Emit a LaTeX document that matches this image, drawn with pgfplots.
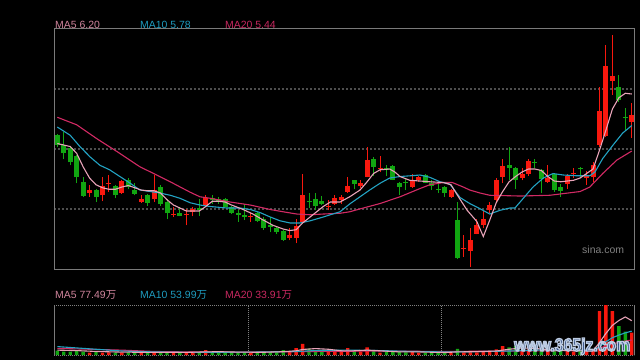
\documentclass[border=0pt]{standalone}
\usepackage{pgfplots}
\pgfplotsset{compat=1.18}
\usepackage{pgfplotstable}
\usepackage{graphicx}
\usepackage{fontspec}
\setmainfont{Liberation Sans}
\newfontfamily\cjk{Noto Sans CJK SC}
\definecolor{cRed}{HTML}{F8180E}
\definecolor{cGreen}{HTML}{11A611}
\definecolor{maA}{HTML}{E8A3B8}
\definecolor{maB}{HTML}{23A3C3}
\definecolor{maC}{HTML}{D22A64}
\definecolor{labA}{HTML}{D0849C}
\definecolor{labB}{HTML}{1E9BBE}
\definecolor{labC}{HTML}{C82860}
\definecolor{frameGray}{HTML}{7A7A7A}
\definecolor{gridGray}{HTML}{4E4E4E}
\definecolor{volGray}{HTML}{808080}
\definecolor{wmBlue}{HTML}{2D4A7F}

% red (up) candles: index open high low close volume(wan)
\pgfplotstableread{
i o h l c v
5 4.88 4.99 4.83 4.92 5.2
7 4.85 5.09 4.77 4.97 5.2
8 5.01 5.12 4.90 5.02 6.1
10 4.88 5.05 4.87 5.04 5.2
13 4.76 4.85 4.75 4.80 5.2
15 4.80 5.12 4.76 4.92 5.2
18 4.59 4.69 4.56 4.60 5.2
20 4.59 4.67 4.45 4.60 5.2
21 4.63 4.69 4.57 4.67 5.2
23 4.71 4.85 4.70 4.81 11.3
30 4.57 4.62 4.50 4.58 5.2
36 4.28 4.41 4.25 4.32 7.5
37 4.28 4.54 4.21 4.44 15.8
38 4.50 5.14 4.49 4.85 24.9
42 4.70 4.79 4.65 4.71 7.5
43 4.74 4.85 4.72 4.81 7.5
44 4.79 4.86 4.74 4.83 7.5
45 4.90 5.09 4.88 4.97 15.8
47 4.98 5.05 4.95 5.02 7.5
48 5.10 5.50 5.09 5.32 17.4
50 5.20 5.37 5.16 5.21 5.2
55 4.96 5.13 4.95 5.04 7.5
56 5.05 5.11 5.03 5.10 5.2
61 4.83 4.93 4.82 4.92 6.1
63 4.14 4.32 4.03 4.15 6.1
64 4.11 4.42 3.90 4.26 7.5
65 4.34 4.53 4.33 4.45 6.1
66 4.45 4.66 4.41 4.54 7.5
67 4.65 4.76 4.61 4.72 7.5
68 4.79 5.08 4.76 5.05 12.9
69 5.10 5.34 5.01 5.24 20.3
72 5.08 5.21 5.05 5.14 11.3
73 5.13 5.34 5.11 5.31 12.9
76 5.03 5.25 5.02 5.08 9.7
79 5.00 5.13 4.93 5.11 9.7
80 5.14 5.21 5.08 5.15 7.5
82 5.08 5.18 4.99 5.12 9.7
83 5.10 5.30 5.03 5.25 12.9
84 5.52 6.29 5.50 5.97 99.4
85 5.64 6.85 5.63 6.57 113
86 6.38 6.99 6.19 6.44 99.4
89 5.83 6.08 5.62 5.92 50.4
}\redtab

% green (down) candles
\pgfplotstableread{
i o h l c v
0 5.65 5.67 5.49 5.52 9.7
1 5.52 5.70 5.33 5.41 7.5
2 5.48 5.51 5.25 5.29 7.5
3 5.37 5.39 5.01 5.09 9.0
4 5.03 5.10 4.83 4.84 7.5
6 4.92 4.93 4.76 4.83 7.5
9 4.97 4.99 4.81 4.85 5.2
11 5.05 5.08 4.93 4.96 6.1
12 4.92 5.02 4.85 4.87 5.2
14 4.85 4.87 4.71 4.75 6.1
16 4.96 4.99 4.71 4.74 7.5
17 4.76 4.80 4.53 4.61 6.1
19 4.62 4.69 4.57 4.58 5.2
22 4.68 4.80 4.57 4.66 5.2
24 4.82 4.85 4.74 4.79 6.8
25 4.80 4.83 4.74 4.78 4.5
26 4.80 4.81 4.69 4.70 6.1
27 4.69 4.71 4.60 4.62 5.2
28 4.61 4.65 4.50 4.59 6.1
29 4.59 4.74 4.52 4.56 5.2
31 4.62 4.63 4.50 4.51 6.1
32 4.54 4.56 4.39 4.42 7.5
33 4.45 4.56 4.36 4.43 7.5
34 4.41 4.43 4.34 4.36 7.5
35 4.37 4.39 4.24 4.26 11.3
39 4.77 4.88 4.68 4.76 14.3
40 4.80 4.88 4.65 4.71 9.7
41 4.77 4.84 4.72 4.73 9.0
46 5.05 5.06 4.93 5.00 7.5
49 5.34 5.36 5.11 5.23 9.7
51 5.22 5.25 5.11 5.19 7.5
52 5.24 5.25 5.05 5.06 7.5
53 5.02 5.03 4.85 4.96 7.5
54 5.03 5.08 4.92 5.02 6.1
57 5.12 5.14 5.01 5.02 5.2
58 5.02 5.06 4.92 4.97 5.2
59 4.94 5.02 4.88 4.92 5.2
60 4.96 4.97 4.83 4.88 6.1
62 4.52 4.76 4.00 4.01 13.6
70 5.26 5.50 5.05 5.22 17.4
71 5.22 5.23 4.93 5.05 20.3
74 5.30 5.34 5.22 5.29 11.3
75 5.19 5.20 4.88 5.07 11.3
77 5.13 5.14 4.90 4.92 11.3
78 4.96 5.00 4.83 4.91 9.7
81 5.21 5.23 5.08 5.20 9.7
87 6.29 6.45 6.10 6.12 65.5
88 5.90 6.02 5.71 5.89 52.7
}\greentab

\begin{document}
\begin{tikzpicture}[x=1bp,y=1bp]
\fill[black] (0,0) rectangle (640,360);

% ---------------- price panel ----------------
\begin{axis}[at={(54bp,91bp)}, anchor=south west, scale only axis,
  width=580bp, height=240bp,
  xmin=-0.51, xmax=89.35, ymin=3.867, ymax=7.067,
  axis line style={draw=frameGray, line width=1bp},
  xtick=\empty, ytick={4.667,5.467,6.267}, yticklabels={},
  tick style={draw=none}, major tick length=0pt,
  ymajorgrids, grid style={draw=gridGray, line width=1.4bp, dash pattern=on 2bp off 2bp}]
% wicks
\addplot[draw=none, mark=none, forget plot, error bars/.cd, y dir=plus, y explicit, error mark=none,
  error bar style={draw=cRed, line width=1bp}]
  table[x=i, y=l, y error expr=\thisrow{h}-\thisrow{l}] {\redtab};
\addplot[draw=none, mark=none, forget plot, error bars/.cd, y dir=plus, y explicit, error mark=none,
  error bar style={draw=cGreen, line width=1bp}]
  table[x=i, y=l, y error expr=\thisrow{h}-\thisrow{l}] {\greentab};
% bodies
\addplot[draw=none, mark=none, forget plot, error bars/.cd, y dir=plus, y explicit, error mark=none,
  error bar style={draw=cRed, line width=5bp}]
  table[x=i, y=o, y error expr=\thisrow{c}-\thisrow{o}] {\redtab};
\addplot[draw=none, mark=none, forget plot, error bars/.cd, y dir=plus, y explicit, error mark=none,
  error bar style={draw=cGreen, line width=5bp}]
  table[x=i, y=c, y error expr=\thisrow{o}-\thisrow{c}] {\greentab};
% MA20
\addplot[maC, line width=1.1bp, mark=none] coordinates {
(0,5.89)(3,5.79)(6.2,5.60)(9.3,5.43)(12.8,5.23)(15.4,5.12)(17.5,5.03)(20.6,4.89)(22.1,4.83)(23.7,4.81)(26.8,4.76)(29.9,4.72)(33,4.66)(35,4.63)(37.1,4.60)(39.2,4.59)(41.2,4.60)(43.8,4.61)(45.3,4.63)(47.4,4.68)(50,4.74)(53.1,4.83)(56.2,4.94)(57.7,4.99)(59.8,5.02)(61.2,5.02)(62.9,4.96)(63.9,4.92)(65.5,4.88)(67,4.85)(71.7,4.84)(76.3,4.85)(81,4.90)(82.5,4.96)(84.5,5.14)(86.7,5.32)(89,5.44)};
% MA10
\addplot[maB, line width=1.1bp, mark=none] coordinates {
(0,5.76)(2,5.65)(3.5,5.50)(5.1,5.36)(6.6,5.25)(8.1,5.19)(9.7,5.10)(11.3,5.01)(12.8,4.92)(14.4,4.90)(15.9,4.88)(17.5,4.85)(19,4.81)(20.6,4.75)(22.1,4.72)(23.7,4.70)(26.3,4.68)(28.3,4.68)(29.9,4.66)(31.4,4.62)(33,4.56)(34.5,4.51)(36.1,4.48)(37.6,4.48)(39.2,4.51)(41.2,4.56)(42.3,4.59)(43.8,4.63)(45.4,4.74)(46.9,4.83)(48.4,4.92)(50,5.01)(51.5,5.08)(53.1,5.10)(54.7,5.11)(56.2,5.12)(57.7,5.09)(59.3,5.03)(60.8,5.00)(62.4,4.82)(63.9,4.74)(65.5,4.67)(67,4.60)(68.6,4.65)(70.1,4.68)(70.9,4.68)(72.2,4.81)(73.7,4.96)(75.3,5.08)(76.8,5.14)(78.4,5.12)(80.5,5.11)(82.5,5.11)(83.3,5.16)(84.5,5.34)(86.1,5.52)(87.6,5.68)(89,5.78)};
% MA5
\addplot[maA, line width=1.1bp, mark=none] coordinates {
(0,5.54)(1,5.52)(2,5.50)(3,5.41)(4,5.23)(5,5.08)(6,4.99)(7,4.95)(8,4.93)(9,4.93)(10,4.96)(11,4.98)(12,4.95)(13,4.92)(14,4.91)(15,4.91)(16,4.88)(17,4.79)(18,4.72)(19,4.68)(20,4.64)(21,4.64)(22,4.64)(23,4.70)(24,4.77)(25,4.77)(26,4.76)(27,4.72)(28.8,4.66)(30.3,4.60)(31.9,4.52)(33.4,4.45)(35,4.40)(36,4.38)(37,4.39)(38,4.48)(39.6,4.59)(41.2,4.70)(42.3,4.76)(43.8,4.76)(45.3,4.83)(46.9,4.92)(48,5.03)(49,5.14)(50,5.19)(51.5,5.20)(52.3,5.16)(53.1,5.10)(54.6,5.05)(56.2,5.04)(57.7,5.03)(59.8,5.02)(61,4.99)(62,4.85)(63.5,4.65)(65,4.50)(66,4.30)(67,4.52)(68,4.75)(69,4.90)(70,5.03)(71,5.10)(72,5.16)(73,5.20)(74,5.20)(75,5.18)(76,5.10)(77,5.04)(78,5.03)(79,5.04)(80,5.05)(81,5.08)(82,5.14)(83,5.20)(84,5.45)(85,5.72)(86,6.00)(87,6.15)(88,6.21)(89,6.20)};
\end{axis}

% ---------------- volume panel ----------------
\begin{axis}[at={(54bp,5bp)}, anchor=south west, scale only axis,
  width=580bp, height=50bp,
  xmin=-0.51, xmax=89.35, ymin=0, ymax=113,
  separate axis lines,
  x axis line style={draw=volGray, line width=1bp, dash pattern=on 1bp off 1bp},
  y axis line style={draw=frameGray, line width=1bp},
  xtick={29.55,59.45}, xticklabels={}, ytick=\empty,
  tick style={draw=none}, major tick length=0pt,
  xmajorgrids, grid style={draw=volGray, line width=1bp, dash pattern=on 1bp off 1bp}]
\addplot[ybar, bar width=3.4bp, bar shift=0pt, fill=cRed, draw=none, forget plot] table[x=i, y=v] {\redtab};
\addplot[ybar, bar width=3.4bp, bar shift=0pt, fill=cGreen, draw=none, forget plot] table[x=i, y=v] {\greentab};
\addplot[maC, line width=1.1bp, mark=none] coordinates {
(0,15)(5,13)(10,11)(15,8)(20,7)(30,6.5)(40,8)(50,9)(60,8)(70,9)(80,10)(83,10.5)(84,15)(85,20.5)(86,25)(87,28.5)(88,31.5)(89,33.9)};
\addplot[maB, line width=1.1bp, mark=none] coordinates {
(0,19)(5,14)(10,9)(15,7)(20,6)(30,6.5)(37,8)(40,10)(45,11)(50,10)(55,8)(60,7)(65,7.5)(70,9)(75,11.5)(80,11)(83,10.5)(84,19)(85,30)(86,39)(87,45)(88,50)(89,54)};
\addplot[maA, line width=1.1bp, mark=none] coordinates {
(0,11)(3,10)(6,8)(10,6.5)(15,6)(20,6)(23,7)(25,7.5)(28,6.5)(32,6.2)(35,7.5)(37,9.5)(38,12.5)(40,14.5)(42,13)(44,9.5)(46,9.5)(48,11)(50,9.5)(53,7)(56,7)(60,5.5)(62,7)(64,7.5)(66,8)(68,9)(70,13)(72,16)(74,15)(76,11.5)(78,10.5)(80,9.7)(82,9.2)(83,9.9)(84,27.8)(85,48.9)(86,67)(87,78)(88,86)(89,77.5)};
\end{axis}

% ---------------- labels ----------------
\begin{scope}[every node/.style={anchor=base west, inner sep=0pt, font=\fontsize{10.5}{12}\selectfont}]
\node[text=labA] at (55,332) {MA5 6.20};
\node[text=labB] at (140,332) {MA10 5.78};
\node[text=labC] at (225,332) {MA20 5.44};
\node[text=labA] at (55,62) {MA5 77.49{\cjk 万}};
\node[text=labB] at (140,62) {MA10 53.99{\cjk 万}};
\node[text=labC] at (225,62) {MA20 33.91{\cjk 万}};
\node[text=volGray] at (582,107) {sina.com};
\end{scope}

% watermark: filled navy text with a light stroked outline (PDF text render mode 2)
\node[anchor=base west, inner sep=0pt, text=wmBlue, font=\bfseries\fontsize{18}{18}\selectfont]
  at (514,9) {\special{pdf:literal 2 Tr 1.4 w 0.74 0.80 0.89 RG}\scalebox{0.88}[1]{www.365jz.com}\special{pdf:literal 0 Tr}};
\end{tikzpicture}
\end{document}
